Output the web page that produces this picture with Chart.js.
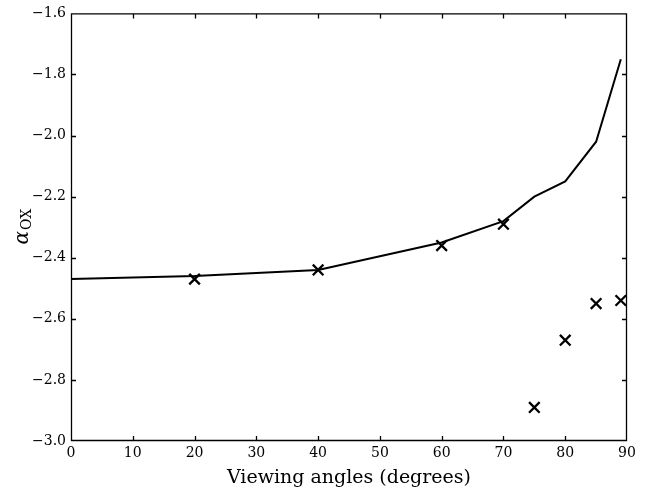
<!DOCTYPE html>
<html>
<head>
<meta charset="utf-8">
<script src="https://cdn.jsdelivr.net/npm/chart.js@4/dist/chart.umd.min.js"></script>
<style>
  html, body { margin: 0; padding: 0; background: #fff; }
  #wrap { width: 650px; height: 489px; }
</style>
</head>
<body>
<div id="wrap"><canvas id="myChart"></canvas></div>
<script>
// Model curve
const lineAngles = [0, 20, 40, 60, 70, 75, 80, 85, 89];
const lineAlpha = [-2.47, -2.46, -2.44, -2.35, -2.28, -2.20, -2.15, -2.02, -1.75];

// Measured points (crosses)
const pointAngles = [20, 40, 60, 70, 75, 80, 85, 89];
const pointAlpha = [-2.47, -2.44, -2.36, -2.29, -2.89, -2.67, -2.55, -2.54];

const xTicks = [0, 10, 20, 30, 40, 50, 60, 70, 80, 90];
const yTicks = [-3.0, -2.8, -2.6, -2.4, -2.2, -2.0, -1.8, -1.6];

const serif = "'DejaVu Serif', 'Liberation Serif', serif";

function minus(v, digits) {
    return v.toFixed(digits).replace('-', '\u2212');
}

// Inside ticks on all four sides, plus frame, plus y title with subscript
const framePlugin = {
    id: 'frame',
    afterDraw(chart) {
        const ctx = chart.ctx;
        const a = chart.chartArea;
        const xs = chart.scales.x;
        const ys = chart.scales.y;
        const len = 5;
        ctx.save();
        ctx.strokeStyle = '#000';
        ctx.lineWidth = 1.3;
        ctx.beginPath();
        ctx.rect(a.left + 0.5, a.top + 0.5, a.right - a.left - 1, a.bottom - a.top - 1);
        xTicks.slice(1, -1).forEach(t => {
            const px = Math.round(xs.getPixelForValue(t)) + 0.5;
            ctx.moveTo(px, a.bottom);
            ctx.lineTo(px, a.bottom - len);
            ctx.moveTo(px, a.top);
            ctx.lineTo(px, a.top + len);
        });
        yTicks.slice(1, -1).forEach(t => {
            const py = Math.round(ys.getPixelForValue(t)) + 0.5;
            ctx.moveTo(a.left, py);
            ctx.lineTo(a.left + len, py);
            ctx.moveTo(a.right, py);
            ctx.lineTo(a.right - len, py);
        });
        ctx.stroke();

        // y axis title: alpha_OX
        ctx.translate(22, (a.top + a.bottom) / 2);
        ctx.rotate(-Math.PI / 2);
        ctx.fillStyle = '#000';
        ctx.textBaseline = 'alphabetic';
        ctx.font = 'italic 20px ' + serif;
        const wA = ctx.measureText('\u03B1').width;
        ctx.font = '14px ' + serif;
        const wS = ctx.measureText('OX').width;
        const x0 = -(wA + wS) / 2;
        ctx.font = 'italic 20px ' + serif;
        ctx.fillText('\u03B1', x0, 6);
        ctx.font = '14px ' + serif;
        ctx.fillText('OX', x0 + wA + 1, 9);
        ctx.restore();
    }
};

const data = {
    datasets: [{
        label: 'model',
        data: lineAngles.map((x, i) => ({ x: x, y: lineAlpha[i] })),
        borderColor: '#000',
        borderWidth: 2,
        pointRadius: 0,
        tension: 0,
        fill: false
    }, {
        label: 'points',
        data: pointAngles.map((x, i) => ({ x: x, y: pointAlpha[i] })),
        showLine: false,
        clip: 0,
        pointStyle: 'crossRot',
        pointRadius: 7.5,
        pointBorderWidth: 2.3,
        pointBorderColor: '#000',
        pointBackgroundColor: '#000'
    }]
};

const config = {
    type: 'line',
    data: data,
    options: {
        responsive: true,
        maintainAspectRatio: false,
        animation: false,
        layout: { padding: { top: 9, right: 23, left: 0, bottom: 0 } },
        plugins: {
            legend: { display: false },
            tooltip: { enabled: false }
        },
        scales: {
            x: {
                type: 'linear',
                min: 0,
                max: 90,
                afterBuildTicks: s => { s.ticks = xTicks.map(v => ({ value: v })); },
                afterFit: s => { s.height = 48; },
                grid: { display: false, drawTicks: false },
                border: { display: false },
                ticks: {
                    color: '#000',
                    padding: 4,
                    maxRotation: 0,
                    font: { family: serif, size: 14 },
                    callback: v => String(v)
                },
                title: {
                    display: true,
                    text: 'Viewing angles (degrees)',
                    color: '#000',
                    font: { family: serif, size: 19 },
                    padding: { top: 0, bottom: 0 }
                }
            },
            y: {
                type: 'linear',
                min: -3.0,
                max: -1.6,
                afterBuildTicks: s => { s.ticks = yTicks.map(v => ({ value: v })); },
                afterFit: s => { s.width = 71; },
                grid: { display: false, drawTicks: false },
                border: { display: false },
                ticks: {
                    color: '#000',
                    padding: 5,
                    font: { family: serif, size: 14 },
                    callback: v => minus(v, 1)
                }
            }
        }
    },
    plugins: [framePlugin]
};

const myChart = new Chart(document.getElementById('myChart'), config);
</script>
</body>
</html>
